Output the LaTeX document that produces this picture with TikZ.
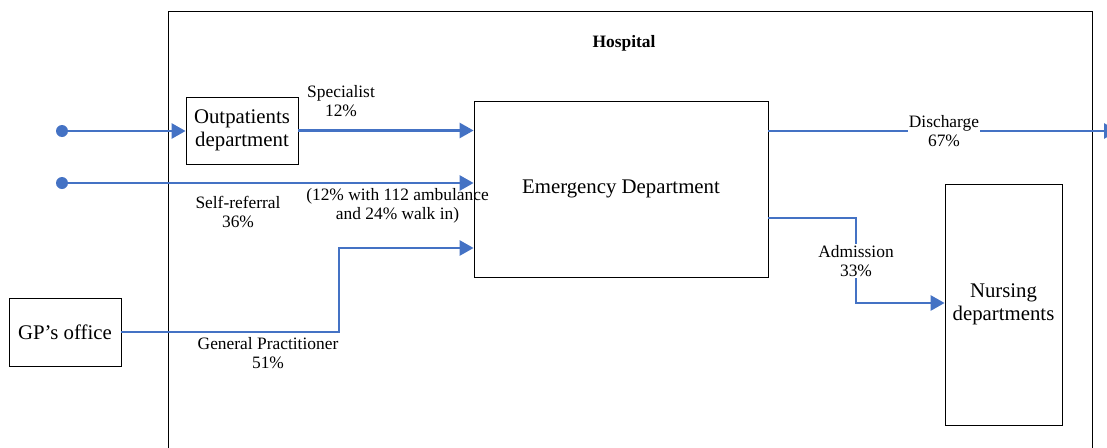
\documentclass[tikz,border=0pt]{standalone}
\usepackage{fontspec}
\setmainfont{Liberation Serif}
\usetikzlibrary{arrows.meta}
\definecolor{flowblue}{HTML}{4472C4}
\newcommand\bigtxt{\fontsize{20.8}{23.5}\selectfont}
\newcommand\smalltxt{\fontsize{17.4}{19.5}\selectfont}
\begin{document}
\begin{tikzpicture}[x=1pt,y=-1pt,
  box/.style={draw=black, line width=0.8pt, align=center, inner sep=0pt, font=\bigtxt},
  flow/.style={draw=flowblue, line width=2.7pt, -{Triangle[length=14pt,width=15pt]}},
  dot/.style={circle, fill=flowblue, inner sep=0pt, minimum size=12pt},
  lbl/.style={align=center, font=\smalltxt, inner sep=1pt},
  wlbl/.style={lbl, fill=white}]
\useasboundingbox (0,0) rectangle (1107,447);
% hospital frame
\draw[line width=0.8pt] (168,470) -- (168,11) -- (1092,11) -- (1092,470);
\node[font=\smalltxt\bfseries] (hosp) at (624,43) {Hospital};
% boxes
\node[box, minimum width=112pt, minimum height=67pt] (op) at (242,130.5) {Outpatients\\department};
\node[box, minimum width=294pt, minimum height=176pt] (ed) at (621,189) {Emergency Department};
\node[box, minimum width=112pt, minimum height=68pt] (gp) at (65,332) {GP’s office};
\node[box, minimum width=117pt, minimum height=241pt] (nd) at (1003.5,304.5) {Nursing\\departments};
% dots
\node[dot] (d1) at (62,131) {};
\node[dot] (d2) at (62,183) {};
% flows in
\draw[flow] (d1) -- (op.west |- d1);
\draw[flow] (op.east) -- (ed.west |- op.east);
\draw[flow] (d2) -- (ed.west |- d2);
\coordinate (gpbend) at (339,248);
\draw[flow] (gp.east) -| (gpbend) -- (ed.west |- gpbend);
% flows out
\coordinate (dis) at (1118,131);
\draw[flow] (ed.east |- dis) -- (dis);
\coordinate (adm1) at (856,218);
\coordinate (adm2) at (856,303);
\draw[flow] (ed.east |- adm1) -- (adm1) -- (adm2) -- (nd.west |- adm2);
% labels
\node[lbl] (lspec) at (341,101) {Specialist\\12\%};
\node[lbl] (lself) at (238,212) {Self-referral\\36\%};
\node[lbl] (lamb) at (397.5,206) {(12\% with 112 ambulance\\and 24\% walk in)};
\node[lbl] (lgp) at (268,353) {General Practitioner\\51\%};
\node[wlbl] (ldis) at (944,131) {Discharge\\67\%};
\node[wlbl] (ladm) at (856,261) {Admission\\33\%};
\end{tikzpicture}
\end{document}
